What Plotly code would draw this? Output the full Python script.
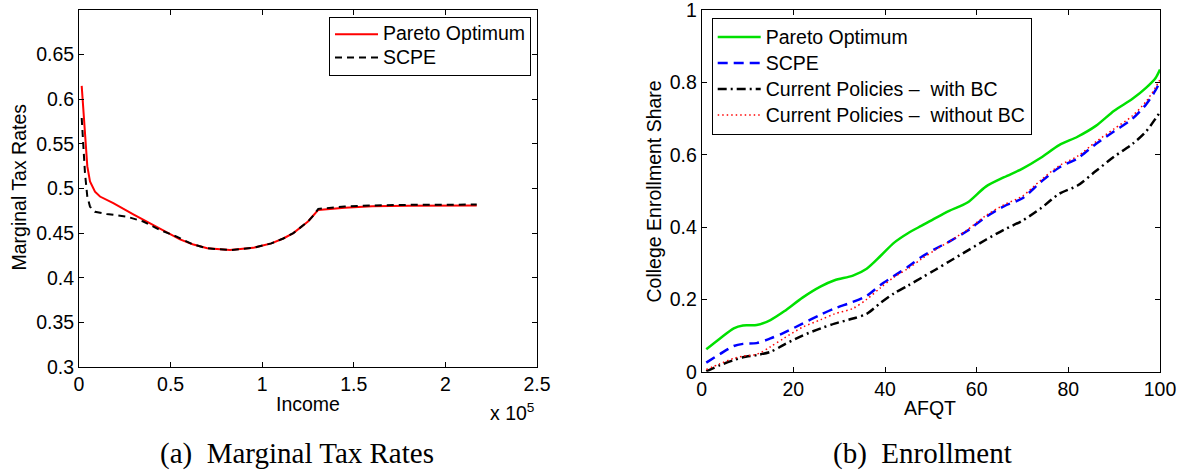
import plotly.graph_objects as go

# ---------------- Data ----------------
# Panel (a): Marginal tax rates vs income
income_po = [1474, 2350, 3275, 4530, 6000, 8730, 11460, 18720, 29640, 38750, 47870,
             55130, 62000, 70000, 82400, 95000, 105000, 111500, 117000, 121000,
             125000, 128000, 130600, 145000, 160000, 180000, 200000, 217100]
mtr_po = [0.615, 0.588, 0.554, 0.525, 0.508, 0.4965, 0.491, 0.4835, 0.471, 0.461, 0.451,
          0.443, 0.4375, 0.433, 0.431, 0.4335, 0.4385, 0.444, 0.450, 0.456,
          0.463, 0.470, 0.476, 0.4785, 0.4800, 0.4808, 0.481, 0.481]

income_scpe = [1474, 2350, 3275, 4530, 6000, 8730, 15100, 26000, 35100, 44200, 53300,
               62000, 70000, 82400, 95000, 105000, 111500, 117000, 121000,
               125000, 128000, 130600, 145000, 160000, 180000, 200000, 217100]
mtr_scpe = [0.579, 0.551, 0.517, 0.491, 0.4797, 0.474, 0.4715, 0.4685, 0.463, 0.4536, 0.4461,
            0.4375, 0.433, 0.431, 0.4335, 0.4385, 0.444, 0.450, 0.456,
            0.463, 0.470, 0.4772, 0.4797, 0.4810, 0.4817, 0.482, 0.482]

income_ticks = [0, 50000, 100000, 150000, 200000, 250000]
income_ticktext = ["0", "0.5", "1", "1.5", "2", "2.5"]
mtr_ticks = [0.3, 0.35, 0.4, 0.45, 0.5, 0.55, 0.6, 0.65]
mtr_ticktext = ["0.3", "0.35", "0.4", "0.45", "0.5", "0.55", "0.6", "0.65"]

# Panel (b): College enrollment share vs AFQT
afqt = [1, 4, 7, 9, 12, 15, 18, 22, 26, 29, 33, 36, 39, 42, 45, 48, 51, 54, 58,
        62, 66, 70, 74, 78, 82, 86, 90, 94, 97, 99, 100]
enroll_po = [0.062, 0.092, 0.120, 0.128, 0.129, 0.143, 0.167, 0.205, 0.236, 0.253, 0.266,
             0.285, 0.320, 0.357, 0.383, 0.404, 0.425, 0.445, 0.468, 0.512, 0.538,
             0.562, 0.592, 0.627, 0.650, 0.680, 0.722, 0.755, 0.786, 0.812, 0.836]
enroll_scpe = [0.025, 0.049, 0.071, 0.077, 0.079, 0.092, 0.108, 0.133, 0.158, 0.175, 0.193,
               0.210, 0.240, 0.265, 0.290, 0.318, 0.340, 0.360, 0.390, 0.428, 0.458,
               0.480, 0.525, 0.565, 0.590, 0.630, 0.665, 0.700, 0.740, 0.778, 0.802]
enroll_cp_bc = [0.001, 0.018, 0.032, 0.040, 0.046, 0.055, 0.075, 0.100, 0.120, 0.133, 0.147,
                0.160, 0.190, 0.217, 0.238, 0.260, 0.282, 0.305, 0.335, 0.365, 0.393,
                0.418, 0.452, 0.492, 0.515, 0.555, 0.595, 0.630, 0.665, 0.700, 0.718]
enroll_cp_nobc = [0.006, 0.022, 0.037, 0.043, 0.048, 0.069, 0.093, 0.123, 0.144, 0.160, 0.175,
                  0.200, 0.232, 0.262, 0.285, 0.312, 0.337, 0.360, 0.393, 0.432, 0.462,
                  0.486, 0.530, 0.570, 0.596, 0.636, 0.672, 0.708, 0.748, 0.786, 0.808]

afqt_ticks = [0, 20, 40, 60, 80, 100]
enroll_ticks = [0, 0.2, 0.4, 0.6, 0.8, 1.0]
enroll_ticktext = ["0", "0.2", "0.4", "0.6", "0.8", "1"]

# ---------------- Figure ----------------
W, H = 1181, 471
SANS = "Liberation Sans, Arial, Helvetica, sans-serif"
SERIF = "Liberation Serif, Times New Roman, serif"
FS = 19.5


def fx(p):
    return p / W


def fy(p):
    return 1 - p / H


def lname(s):
    return "<span style='font-size:%gpx'>%s</span>" % (FS, s)


fig = go.Figure()

fig.add_trace(go.Scatter(x=income_po, y=mtr_po, mode="lines", name=lname("Pareto Optimum"),
                         line=dict(color="#ff0000", width=2), xaxis="x", yaxis="y",
                         legend="legend"))
fig.add_trace(go.Scatter(x=income_scpe, y=mtr_scpe, mode="lines", name=lname("SCPE"),
                         line=dict(color="#000000", width=2, dash="7px,5px"),
                         xaxis="x", yaxis="y", legend="legend"))

fig.add_trace(go.Scatter(x=afqt, y=enroll_po, mode="lines", name=lname("Pareto Optimum"),
                         line=dict(color="#00e000", width=2.5, shape="spline", smoothing=0.8),
                         xaxis="x2", yaxis="y2", legend="legend2"))
fig.add_trace(go.Scatter(x=afqt, y=enroll_scpe, mode="lines", name=lname("SCPE"),
                         line=dict(color="#0000ff", width=2.5, dash="10px,6px",
                                   shape="spline", smoothing=0.8),
                         xaxis="x2", yaxis="y2", legend="legend2"))
fig.add_trace(go.Scatter(x=afqt, y=enroll_cp_bc, mode="lines",
                         name=lname("Current Policies \u2013\u00a0 with BC"),
                         line=dict(color="#000000", width=2.5, dash="9px,4px,2px,4px",
                                   shape="spline", smoothing=0.8),
                         xaxis="x2", yaxis="y2", legend="legend2"))
fig.add_trace(go.Scatter(x=afqt, y=enroll_cp_nobc, mode="lines",
                         name=lname("Current Policies \u2013\u00a0 without BC"),
                         line=dict(color="#ff0000", width=1.5, dash="1.5px,3px",
                                   shape="spline", smoothing=0.8),
                         xaxis="x2", yaxis="y2", legend="legend2"))

axis_common = dict(showline=True, linecolor="black", linewidth=1, mirror="ticks",
                   ticks="inside", ticklen=5, tickwidth=1, tickcolor="black",
                   showgrid=False, zeroline=False, automargin=False,
                   ticklabeloverflow="allow",
                   tickfont=dict(family=SANS, size=FS, color="black"))

fig.update_layout(
    width=W, height=H,
    margin=dict(l=0, r=0, t=0, b=0, pad=0, autoexpand=False),
    paper_bgcolor="white", plot_bgcolor="white",
    showlegend=True,
    xaxis=dict(domain=[fx(79), fx(537)], range=[0, 250000], tickmode="array",
               tickvals=income_ticks, ticktext=income_ticktext, anchor="y",
               **axis_common),
    yaxis=dict(domain=[fy(367), fy(10)], range=[0.3, 0.7], tickmode="array",
               tickvals=mtr_ticks, ticktext=mtr_ticktext, anchor="x",
               **axis_common),
    xaxis2=dict(domain=[fx(701.7), fx(1160)], range=[0, 100], tickmode="array",
                tickvals=afqt_ticks, anchor="y2", **axis_common),
    yaxis2=dict(domain=[fy(371.7), fy(10)], range=[0, 1.0006], tickmode="array",
                tickvals=enroll_ticks, ticktext=enroll_ticktext, anchor="x2",
                **axis_common),
    legend=dict(x=fx(329), y=fy(16.7), xanchor="left", yanchor="top",
                bordercolor="black", borderwidth=1, bgcolor="white", itemwidth=43,
                font=dict(family=SANS, size=15.6, color="black"), tracegroupgap=0),
    legend2=dict(x=fx(711.7), y=fy(18), xanchor="left", yanchor="top",
                 bordercolor="black", borderwidth=1, bgcolor="white", itemwidth=43,
                 font=dict(family=SANS, size=17.7, color="black"), tracegroupgap=0),
)

annots = [
    dict(text="Income", x=fx(308), y=fy(404)),
    dict(text="AFQT", x=fx(930), y=fy(408)),
    dict(text="Marginal Tax Rates", x=fx(18.5), y=fy(187), textangle=-90),
    dict(text="College Enrollment Share", x=fx(653.5), y=fy(191), textangle=-90),
    dict(text="x 10<sup>5</sup>", x=fx(537), y=fy(412), xanchor="right"),
]
for a in annots:
    fig.add_annotation(xref="paper", yref="paper", showarrow=False,
                       xanchor=a.get("xanchor", "center"), yanchor="middle",
                       x=a["x"], y=a["y"], text=a["text"], textangle=a.get("textangle", 0),
                       font=dict(family=SANS, size=FS, color="black"))

for txt, cx in [("(a)\u00a0 Marginal Tax Rates", 297.5), ("(b)\u00a0 Enrollment", 922.4)]:
    fig.add_annotation(xref="paper", yref="paper", showarrow=False,
                       xanchor="center", yanchor="middle", x=fx(cx), y=fy(453),
                       text=txt, font=dict(family=SERIF, size=29, color="black"))

fig.write_html("out.html", config={"displayModeBar": False},
               post_script="document.body.style.margin='0px';"
                           "document.body.style.padding='0px';"
                           "document.body.style.overflow='hidden';")
